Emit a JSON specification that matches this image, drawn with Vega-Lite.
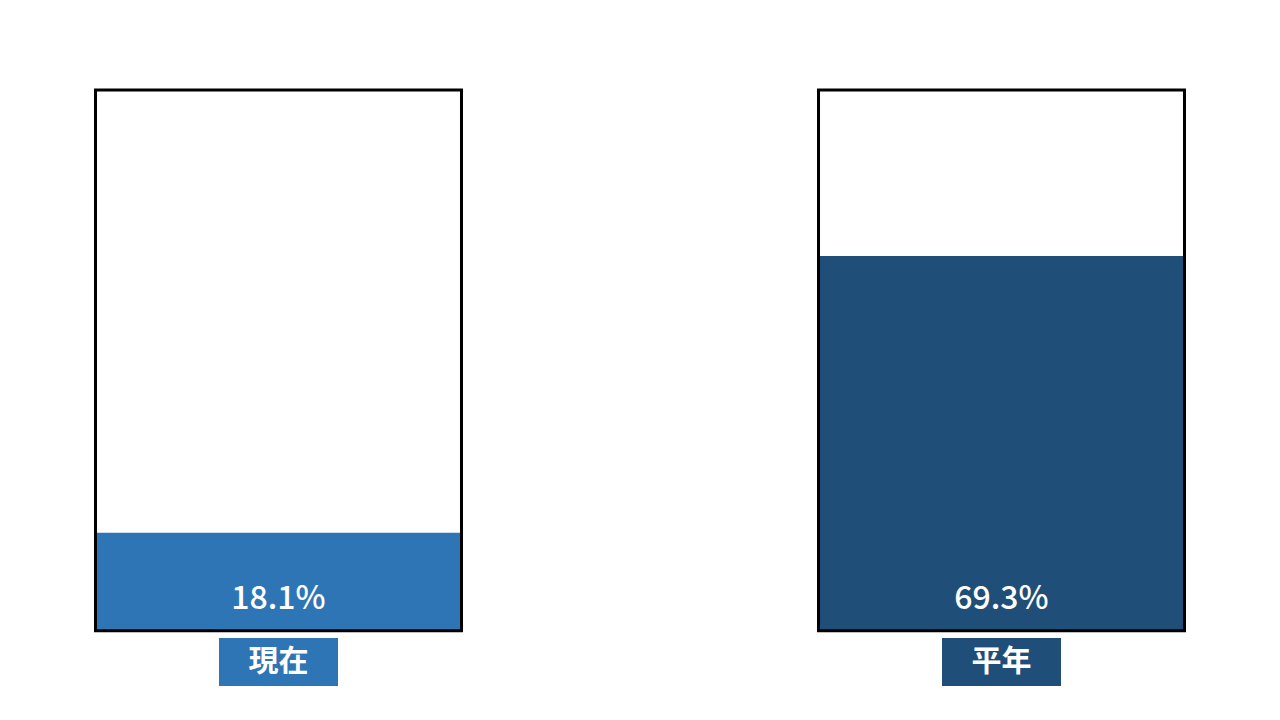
{
  "$schema": "https://vega.github.io/schema/vega-lite/v6.json",
  "width": 1280,
  "height": 720,
  "autosize": {"type": "none"},
  "padding": 0,
  "background": "white",
  "config": {"view": {"stroke": null}},
  "data": {"values": [
    {"period": "現在", "value": 18.1, "label": "18.1%"},
    {"period": "平年", "value": 69.3, "label": "69.3%"}
  ]},
  "encoding": {
    "x": {"field": "period", "type": "nominal", "sort": null, "axis": null,
      "scale": {"paddingInner": 0.4938, "paddingOuter": 0.1321}}
  },
  "layer": [
    {
      "mark": {"type": "bar", "fill": "white"},
      "encoding": {
        "y": {"datum": 0, "type": "quantitative", "scale": {"domain": [-16.52, 116.64], "nice": false, "zero": false}, "axis": null},
        "y2": {"datum": 100}
      }
    },
    {
      "mark": {"type": "bar"},
      "encoding": {
        "y": {"field": "value", "type": "quantitative"},
        "y2": {"datum": 0},
        "color": {"field": "period", "type": "nominal", "sort": null,
          "scale": {"domain": ["現在", "平年"], "range": ["#2E75B6", "#1F4E79"]}, "legend": null}
      }
    },
    {
      "mark": {"type": "bar", "fill": null, "fillOpacity": 0, "stroke": "black", "strokeWidth": 3},
      "encoding": {
        "y": {"datum": 0, "type": "quantitative"},
        "y2": {"datum": 100}
      }
    },
    {
      "mark": {"type": "text", "color": "white", "fontSize": 32, "fontWeight": 500, "font": "Noto Sans CJK JP", "baseline": "alphabetic", "align": "center", "dy": -22},
      "encoding": {
        "y": {"datum": 0, "type": "quantitative"},
        "text": {"field": "label"}
      }
    },
    {
      "mark": {"type": "bar", "width": 119},
      "encoding": {
        "y": {"datum": -1.35, "type": "quantitative"},
        "y2": {"datum": -10.24},
        "color": {"field": "period", "type": "nominal", "sort": null}
      }
    },
    {
      "mark": {"type": "text", "color": "white", "fontSize": 30, "fontWeight": "bold", "font": "Noto Sans CJK JP", "baseline": "middle", "align": "center"},
      "encoding": {
        "y": {"datum": -5.8, "type": "quantitative"},
        "text": {"field": "period"}
      }
    }
  ]
}
